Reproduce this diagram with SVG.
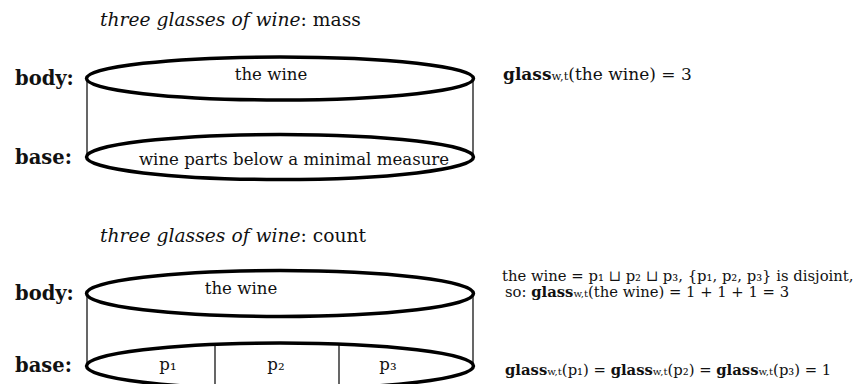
<svg xmlns="http://www.w3.org/2000/svg" width="854" height="384" viewBox="0 0 854 384">
<style>
text{font-family:"DejaVu Serif","Liberation Serif",serif;fill:#111}
.t{font-size:18.7px}
.lab{font-size:19.5px;font-weight:bold}
.in{font-size:16.6px}
.r{font-size:14.8px}
.big{font-size:17px}
.b{font-weight:bold}
.sub{font-size:0.68em}
.el{fill:none;stroke:#000;stroke-width:3.5}
.vl{stroke:#000;stroke-width:1.2}
</style>
<rect width="854" height="384" fill="#fff"/>
<g id="title-mass"><text class="t" x="100" y="26"><tspan font-style="italic">three glasses of wine</tspan>: mass</text></g>
<g id="mass-body">
<text class="lab" x="15" y="85">body:</text>
<ellipse class="el" cx="280" cy="78.5" rx="193.5" ry="21.5"/>
<text class="in" x="271" y="80" text-anchor="middle">the wine</text>
</g>
<g id="mass-base">
<text class="lab" x="15" y="164">base:</text>
<ellipse class="el" cx="280" cy="157" rx="193.5" ry="22.5"/>
<text class="in" x="294" y="165" text-anchor="middle">wine parts below a minimal measure</text>
</g>
<g id="mass-formula"><text class="big" x="503" y="80"><tspan class="b">glass</tspan><tspan class="sub">w,t</tspan>(the wine) = 3</text></g>
<g id="title-count"><text class="t" x="100" y="242"><tspan font-style="italic">three glasses of wine</tspan>: count</text></g>
<g id="count-body">
<text class="lab" x="15" y="300">body:</text>
<ellipse class="el" cx="280" cy="293.5" rx="193.5" ry="23"/>
<text class="in" x="241" y="294" text-anchor="middle">the wine</text>
</g>
<g id="count-base">
<text class="lab" x="15" y="372">base:</text>
<ellipse class="el" cx="280" cy="366" rx="193.5" ry="23"/>
<text class="in" x="168" y="370" text-anchor="middle">p₁</text>
<text class="in" x="276" y="370" text-anchor="middle">p₂</text>
<text class="in" x="388" y="370" text-anchor="middle">p₃</text>
</g>
<g id="count-formulas">
<text class="r" x="502" y="281">the wine = p₁ ⊔ p₂ ⊔ p₃, {p₁, p₂, p₃} is disjoint,</text>
<text class="r" x="505" y="297">so: <tspan class="b">glass</tspan><tspan class="sub">w,t</tspan>(the wine) = 1 + 1 + 1 = 3</text>
<text class="r" x="505" y="375" font-size="15.3"><tspan class="b">glass</tspan><tspan class="sub">w,t</tspan>(p₁) = <tspan class="b">glass</tspan><tspan class="sub">w,t</tspan>(p₂) = <tspan class="b">glass</tspan><tspan class="sub">w,t</tspan>(p₃) =  1</text>
</g>
<g id="connectors">
<line class="vl" x1="87" y1="79" x2="87" y2="157"/>
<line class="vl" x1="473" y1="79" x2="473" y2="157"/>
<line class="vl" x1="87" y1="294" x2="87" y2="366"/>
<line class="vl" x1="473" y1="294" x2="473" y2="366"/>
<line class="vl" x1="215" y1="344" x2="215" y2="384"/>
<line class="vl" x1="339" y1="344" x2="339" y2="384"/>
</g>
</svg>
